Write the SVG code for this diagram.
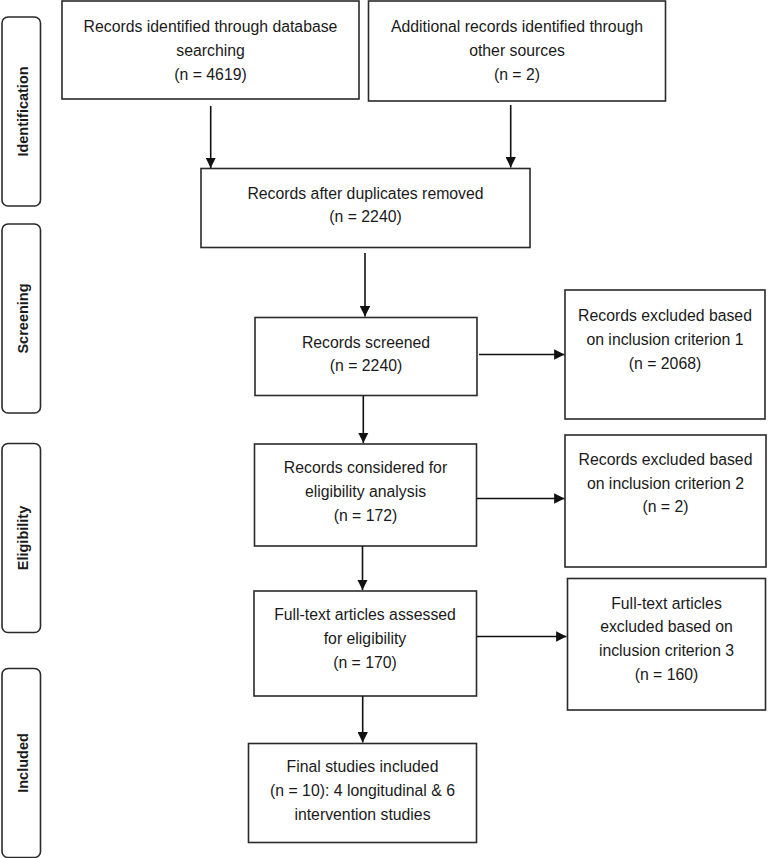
<svg xmlns="http://www.w3.org/2000/svg" width="768" height="858" viewBox="0 0 768 858">
<style>
.box{fill:#fff;stroke:#2a2a2a;stroke-width:1.6}
.lab{fill:#fff;stroke:#2a2a2a;stroke-width:1.6}
.t{font-family:"Liberation Sans",Arial,sans-serif;font-size:15.8px;fill:#1a1a1a;text-anchor:middle}
.s{font-family:"Liberation Sans",Arial,sans-serif;font-size:14.5px;font-weight:bold;fill:#1a1a1a;text-anchor:middle}
.c{stroke:#111;stroke-width:1.6;fill:none;marker-end:url(#ah)}
</style>
<defs>
<marker id="ah" viewBox="0 0 10 10" refX="10" refY="5" markerWidth="6.5" markerHeight="6.5" markerUnits="strokeWidth" orient="auto">
<path d="M0,0 L10,5 L0,10 Z" fill="#111"/>
</marker>
</defs>
<rect width="768" height="858" fill="#fff"/>

<g id="stage-identification">
<rect class="lab" x="2" y="17" width="38.5" height="189" rx="6"/>
<text class="s" transform="translate(28,111.5) rotate(-90)">Identification</text>
</g>
<g id="stage-screening">
<rect class="lab" x="2" y="224" width="38.5" height="189" rx="6"/>
<text class="s" transform="translate(28,318.5) rotate(-90)">Screening</text>
</g>
<g id="stage-eligibility">
<rect class="lab" x="2" y="443.5" width="38.5" height="189" rx="6"/>
<text class="s" transform="translate(28,538) rotate(-90)">Eligibility</text>
</g>
<g id="stage-included">
<rect class="lab" x="2" y="668.5" width="38.5" height="189" rx="6"/>
<text class="s" transform="translate(28,763) rotate(-90)">Included</text>
</g>

<g id="db-records">
<rect class="box" x="62" y="1" width="297" height="98"/>
<text class="t" x="210.5" y="32">Records identified through database</text>
<text class="t" x="210.5" y="56">searching</text>
<text class="t" x="210.5" y="80">(n = 4619)</text>
</g>
<g id="other-records">
<rect class="box" x="368.5" y="1" width="297" height="100"/>
<text class="t" x="517" y="32">Additional records identified through</text>
<text class="t" x="517" y="56">other sources</text>
<text class="t" x="517" y="80">(n = 2)</text>
</g>
<g id="dup-removed">
<rect class="box" x="201" y="168.5" width="329" height="79"/>
<text class="t" x="365.5" y="199">Records after duplicates removed</text>
<text class="t" x="365.5" y="222">(n = 2240)</text>
</g>
<g id="screened">
<rect class="box" x="255" y="317.5" width="222" height="78"/>
<text class="t" x="366" y="347.5">Records screened</text>
<text class="t" x="366" y="371">(n = 2240)</text>
</g>
<g id="excluded-1">
<rect class="box" x="565" y="290" width="200" height="129"/>
<text class="t" x="665" y="320.5">Records excluded based</text>
<text class="t" x="665" y="345">on inclusion criterion 1</text>
<text class="t" x="665" y="369">(n = 2068)</text>
</g>
<g id="eligibility-analysis">
<rect class="box" x="254.5" y="444" width="222" height="102"/>
<text class="t" x="365.5" y="473">Records considered for</text>
<text class="t" x="365.5" y="497">eligibility analysis</text>
<text class="t" x="365.5" y="520.5">(n = 172)</text>
</g>
<g id="excluded-2">
<rect class="box" x="565" y="435" width="201" height="132"/>
<text class="t" x="665.5" y="465">Records excluded based</text>
<text class="t" x="665.5" y="488.5">on inclusion criterion 2</text>
<text class="t" x="665.5" y="512">(n = 2)</text>
</g>
<g id="fulltext-assessed">
<rect class="box" x="254" y="591" width="222.5" height="105"/>
<text class="t" x="365" y="620">Full-text articles assessed</text>
<text class="t" x="365" y="644">for eligibility</text>
<text class="t" x="365" y="668">(n = 170)</text>
</g>
<g id="excluded-3">
<rect class="box" x="567.5" y="578.5" width="198" height="131.5"/>
<text class="t" x="666.5" y="608.5">Full-text articles</text>
<text class="t" x="666.5" y="632">excluded based on</text>
<text class="t" x="666.5" y="656">inclusion criterion 3</text>
<text class="t" x="666.5" y="679.5">(n = 160)</text>
</g>
<g id="final-included">
<rect class="box" x="248.5" y="743.5" width="228" height="99"/>
<text class="t" x="362.5" y="772">Final studies included</text>
<text class="t" x="362.5" y="796">(n = 10): 4 longitudinal &amp; 6</text>
<text class="t" x="362.5" y="820">intervention studies</text>
</g>

<g id="connectors">
<line class="c" x1="210.7" y1="106" x2="210.7" y2="168"/>
<line class="c" x1="510.7" y1="105" x2="510.7" y2="167.5"/>
<line class="c" x1="365" y1="253" x2="365" y2="316.5"/>
<line class="c" x1="479" y1="354.5" x2="564.5" y2="354.5"/>
<line class="c" x1="363.3" y1="396" x2="363.3" y2="443"/>
<line class="c" x1="477" y1="498.5" x2="564.5" y2="498.5"/>
<line class="c" x1="362.5" y1="546" x2="362.5" y2="590"/>
<line class="c" x1="477" y1="636.5" x2="566.5" y2="636.5"/>
<line class="c" x1="362.7" y1="696" x2="362.7" y2="742.5"/>
</g>
</svg>
